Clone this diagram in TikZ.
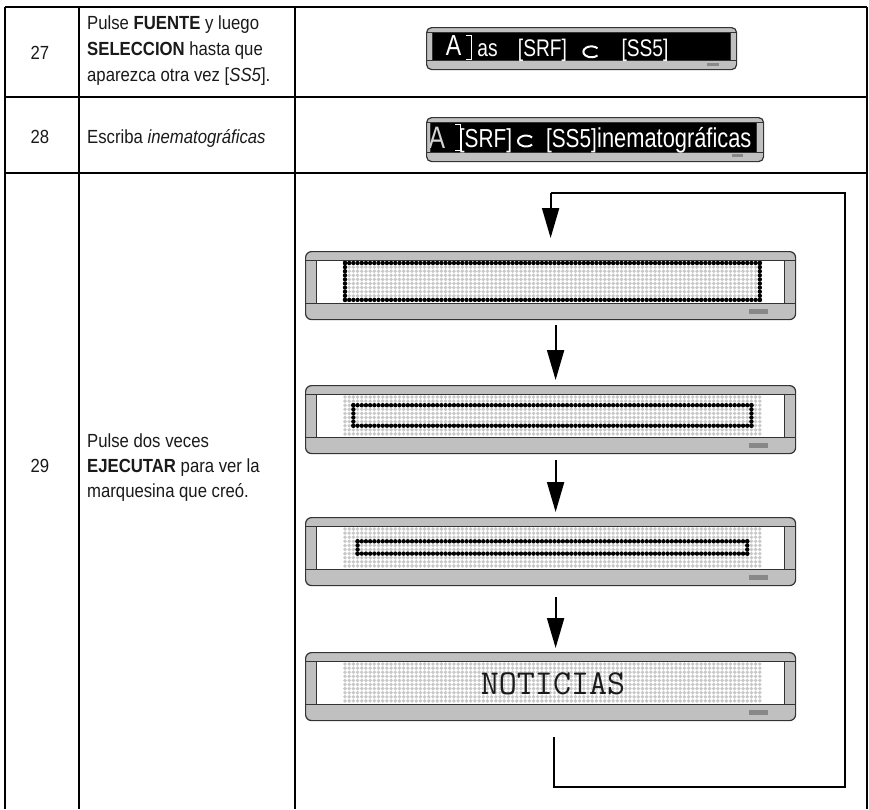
\documentclass[tikz,border=0pt]{standalone}
\usepackage{fontspec}
\setmainfont[FakeStretch=0.88]{Liberation Sans}
\newfontfamily\dispfont[FakeStretch=0.8]{Liberation Sans}
\usetikzlibrary{arrows.meta,calc}
\definecolor{panel}{HTML}{C0C0C0}
\definecolor{edge}{HTML}{333333}
\definecolor{led}{HTML}{888888}
\definecolor{dotgray}{HTML}{C8C8C8}
\definecolor{ink}{HTML}{1A1A1A}
\tikzset{
  tbl/.style={line width=2pt, black},
  panelframe/.style={draw=edge, line width=1.2pt, fill=panel, rounded corners=6pt,
     minimum width=490pt, minimum height=68pt, inner sep=0pt, anchor=north west},
  smallframe/.style={draw=edge, line width=1.2pt, fill=panel, rounded corners=5pt,
     inner sep=0pt, anchor=north west},
  flow/.style={line width=2pt, -{Triangle[length=30pt,width=17pt]}},
  loopline/.style={line width=2pt},
  txt/.style={anchor=base west, inner sep=0pt, text=ink, font=\fontsize{19}{19}\selectfont},
  num/.style={anchor=base, inner sep=0pt, text=ink, font=\fontsize{19}{19}\selectfont},
  dtxt/.style={anchor=base, inner sep=0pt, text=white, font=\dispfont\fontsize{24}{24}\selectfont},
  etxt/.style={anchor=base, inner sep=0pt, text=white, font=\dispfont\fontsize{26}{26}\selectfont},
}
\newcommand\ledpanel[2]{%
  \node[panelframe] (#1) at (305,#2) {};
  \fill[white] (316,#2+9) rectangle (784,#2+52);
  \draw[edge, line width=1pt] (305,#2+9) -- (795,#2+9) (305,#2+52) -- (795,#2+52)
     (316,#2+9) -- (316,#2+52) (784,#2+9) -- (784,#2+52);
  \fill[led] (749,#2+58) rectangle (768,#2+63);
  \foreach \i in {0,...,99}{\foreach \j in {0,...,9}{%
     \fill[dotgray] (345+\i*4.19,#2+12+\j*4.1) circle (1.9pt);}}%
}
\newcommand\ledring[5]{%
  \foreach \i in {#2,...,#3}{%
    \fill[black] (345+\i*4.19,#1+12+#4*4.1) circle (2.2pt);
    \fill[black] (345+\i*4.19,#1+12+#5*4.1) circle (2.2pt);}%
  \foreach \j in {#4,...,#5}{%
    \fill[black] (345+#2*4.19,#1+12+\j*4.1) circle (2.2pt);
    \fill[black] (345+#3*4.19,#1+12+\j*4.1) circle (2.2pt);}%
}
\begin{document}
\begin{tikzpicture}[x=1pt,y=-1pt]
\useasboundingbox (0,0) rectangle (869,809);
\fill[white] (0,0) rectangle (869,809);
% table
\draw[tbl] (5,7) -- (867,7) (5,97) -- (867,97) (5,173) -- (867,173);
\draw[tbl] (5,7) -- (5,809) (79,7) -- (79,809) (295,7) -- (295,809) (867,7) -- (867,809);
% row texts
\node[num] (n27) at (40,59) {27};
\node[txt] (t27a) at (87,29) {Pulse \textbf{FUENTE} y luego};
\node[txt] (t27b) at (87,55) {\textbf{SELECCION} hasta que};
\node[txt] (t27c) at (87,81) {aparezca otra vez [\textit{SS5}].};
\node[num] (n28) at (40,143) {28};
\node[txt] (t28) at (87,143) {Escriba \textit{inematográficas}};
\node[num] (n29) at (40,472) {29};
\node[txt] (t29a) at (87,447) {Pulse dos veces};
\node[txt] (t29b) at (87,472) {\textbf{EJECUTAR} para ver la};
\node[txt] (t29c) at (87,497) {marquesina que creó.};
% display 27
\node[smallframe, minimum width=310pt, minimum height=42pt] (s27) at (426,27) {};
\fill[black] (432,32) rectangle (730,60);
\draw[edge, line width=1pt] (426,32) -- (736,32) (426,60) -- (736,60) (432,32) -- (432,60) (730,32) -- (730,60);
\fill[led] (707,63) rectangle (719,66);
\node[dtxt, font=\dispfont\fontsize{29}{29}\selectfont] (a27) at (453.5,55.5) {A};
\draw[white, line width=1pt] (466,35) -- (471,35) -- (471,59) -- (466,59);
\node[dtxt] (as27) at (487.5,56) {as};
\node[dtxt] (srf27) at (542.5,56) {[SRF]};
\draw[white, line width=2pt] (597.5,48.3) arc[start angle=40, end angle=320, x radius=8pt, y radius=5.5pt];
\node[dtxt] (ss27) at (645,56) {[SS5]};
% display 28
\node[smallframe, minimum width=337pt, minimum height=44pt] (s28) at (426,117) {};
\fill[black] (430,122) rectangle (756,152);
\draw[edge, line width=1pt] (426,122) -- (763,122) (426,152) -- (763,152) (430,122) -- (430,152) (756,122) -- (756,152);
\fill[led] (732,154) rectangle (743,157);
\begin{scope}
\clip (430,122) rectangle (756,152);
\node[etxt, text=gray!35, font=\dispfont\fontsize{31}{31}\selectfont] (a28) at (437,148) {A};
\end{scope}
\draw[white, line width=1pt] (455,124) -- (460,124) -- (460,150) -- (455,150);
\node[etxt] (srf28) at (485.5,147) {[SRF]};
\draw[white, line width=2pt] (532.1,137.5) arc[start angle=40, end angle=320, x radius=8pt, y radius=5.5pt];
\node[etxt] (ss28) at (571.5,147) {[SS5]};
\node[etxt, font=\dispfont\fontsize{27.3}{27.3}\selectfont, anchor=base west] (ine28) at (597,147) {inematográficas};
% row 29 displays
\ledpanel{d1}{251}
\ledring{251}{0}{99}{0}{9}
\ledpanel{d2}{385}
\ledring{385}{2}{97}{2}{7}
\ledpanel{d3}{517}
\ledring{517}{3}{96}{3}{6}
\ledpanel{d4}{652}
\node[inner sep=0pt, text=ink, font=\ttfamily\fontsize{35}{35}\selectfont] (noti) at (553,684) {NOTICIAS};
% arrows
\draw[flow] ($(d1.south)+(5,5)$) -- ($(d2.north)+(5,-5)$);
\draw[flow] ($(d2.south)+(5,6)$) -- ($(d3.north)+(5,-5)$);
\draw[flow] ($(d3.south)+(5,11)$) -- ($(d4.north)+(5,-4)$);
\coordinate (loopR) at (845,787);
\draw[loopline] ($(d4.south)+(3,16)$) |- (loopR) |- ($(d1.north)+(0,-58)$);
\draw[flow] ($(d1.north)+(0,-58)$) -- ($(d1.north)+(0,-13)$);
\end{tikzpicture}
\end{document}
